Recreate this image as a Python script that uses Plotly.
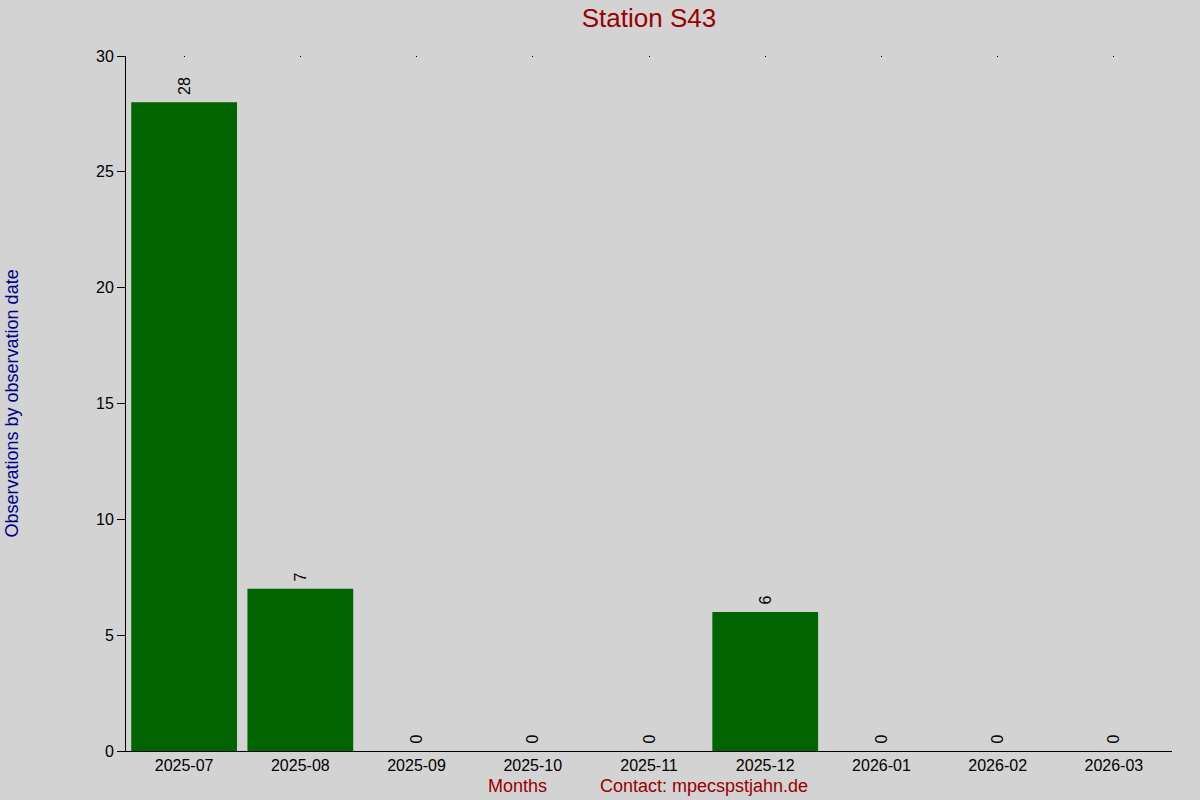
import plotly.graph_objects as go

months = ["2025-07", "2025-08", "2025-09", "2025-10", "2025-11",
          "2025-12", "2026-01", "2026-02", "2026-03"]
observations = [28, 7, 0, 0, 0, 6, 0, 0, 0]
y_ticks = [0, 5, 10, 15, 20, 25, 30]

FONT = "Liberation Sans, Arial, sans-serif"

fig = go.Figure()
fig.add_trace(go.Bar(
    x=months, y=observations,
    marker=dict(color="#006400", line=dict(width=0)),
    # leading nbsp gives the small gap between bar top and label
    text=["\u00a0" + str(v) for v in observations],
    textposition="outside", textangle=-90,
    textfont=dict(size=16, color="black", family=FONT),
    cliponaxis=False, hoverinfo="skip",
))
# hidden trace so the top axis carries the small tick marks
fig.add_trace(go.Scatter(
    x=months, y=observations, xaxis="x2", mode="markers",
    marker=dict(opacity=0), hoverinfo="skip", showlegend=False,
))

fig.update_layout(
    width=1200, height=800,
    paper_bgcolor="#d3d3d3", plot_bgcolor="#d3d3d3",
    margin=dict(l=126, r=28, t=56, b=49),
    bargap=0.09, showlegend=False,
    font=dict(family=FONT, size=16, color="black"),
    title=dict(text="Station S43", x=0.5, xref="paper", xanchor="center",
               y=1 - 18 / 800, yref="container", yanchor="middle",
               font=dict(size=26, color="#990000", family=FONT)),
    xaxis=dict(type="category", showline=True, linecolor="black", linewidth=1,
               ticks="", showgrid=False, zeroline=False,
               tickfont=dict(size=16)),
    xaxis2=dict(type="category", overlaying="x", matches="x", side="top",
                showline=False, ticks="inside", ticklen=1, tickcolor="black",
                showticklabels=False, showgrid=False, zeroline=False),
    yaxis=dict(range=[0, 30], tickvals=y_ticks, showline=True, linecolor="black",
               linewidth=1, ticks="outside", ticklen=8, tickcolor="black",
               showgrid=False, zeroline=False, tickfont=dict(size=16)),
    annotations=[
        dict(text="Observations by observation date", xref="paper", yref="paper",
             x=-115 / 1046, y=0.5, textangle=-90, showarrow=False,
             xanchor="center", yanchor="middle",
             font=dict(size=18, color="#00008b", family=FONT)),
        dict(text="Months", xref="paper", yref="paper",
             x=(517 - 126) / 1046, y=-35 / 695, showarrow=False,
             xanchor="center", yanchor="middle",
             font=dict(size=18, color="#990000", family=FONT)),
        dict(text="Contact: mpecspstjahn.de", xref="paper", yref="paper",
             x=(704 - 126) / 1046, y=-35 / 695, showarrow=False,
             xanchor="center", yanchor="middle",
             font=dict(size=18, color="#990000", family=FONT)),
    ],
)

fig.write_html("out.html", config={"displayModeBar": False},
               post_script="document.body.style.margin = '0';")
